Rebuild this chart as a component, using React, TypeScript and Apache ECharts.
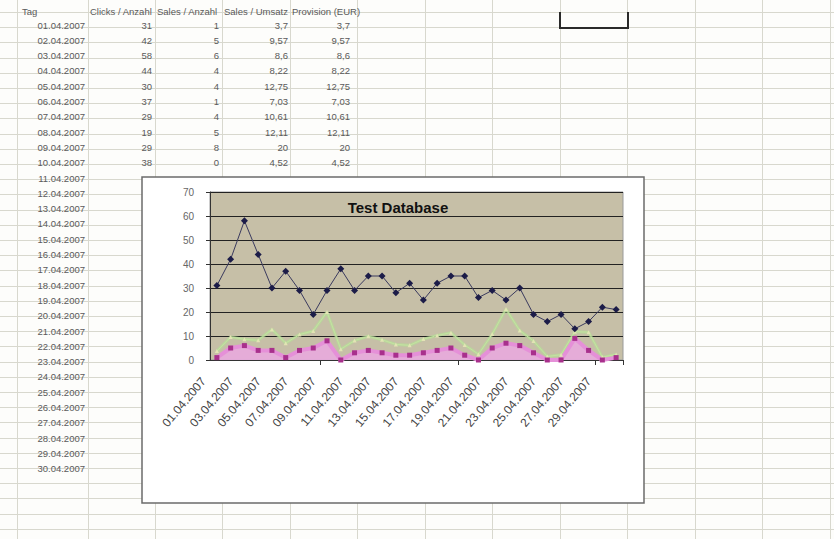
import React, { useEffect, useRef } from "react";
import * as echarts from "echarts";

const dates = [
  "01.04.2007", "02.04.2007", "03.04.2007", "04.04.2007", "05.04.2007",
  "06.04.2007", "07.04.2007", "08.04.2007", "09.04.2007", "10.04.2007",
  "11.04.2007", "12.04.2007", "13.04.2007", "14.04.2007", "15.04.2007",
  "16.04.2007", "17.04.2007", "18.04.2007", "19.04.2007", "20.04.2007",
  "21.04.2007", "22.04.2007", "23.04.2007", "24.04.2007", "25.04.2007",
  "26.04.2007", "27.04.2007", "28.04.2007", "29.04.2007", "30.04.2007",
];
const clicks = [31, 42, 58, 44, 30, 37, 29, 19, 29, 38, 29, 35, 35, 28, 32, 25, 32, 35, 35, 26, 29, 25, 30, 19, 16, 19, 13, 16, 22, 21];
const sales = [1, 5, 6, 4, 4, 1, 4, 5, 8, 0, 3, 4, 3, 2, 2, 3, 4, 5, 2, 0, 5, 7, 6, 3, 0, 0, 9, 4, 0, 1];
const umsatz = [3.7, 9.57, 8.6, 8.22, 12.75, 7.03, 10.61, 12.11, 20, 4.52, 8.1, 9.9, 8.4, 6.5, 6.1, 8.7, 10.2, 11.4, 6.3, 2.4, 10.8, 21.2, 12.3, 7.9, 1.5, 2.2, 11.8, 11.6, 1.2, 2.3];
const provision = [3.7, 9.57, 8.6, 8.22, 12.75, 7.03, 10.61, 12.11, 20, 4.52, 8.1, 9.9, 8.4, 6.5, 6.1, 8.7, 10.2, 11.4, 6.3, 2.4, 10.8, 21.2, 12.3, 7.9, 1.5, 2.2, 11.8, 11.6, 1.2, 2.3];
const headers = ["Tag", "Clicks / Anzahl", "Sales / Anzahl", "Sales / Umsatz", "Provision (EUR)"];
const visibleRows = 10;

const FONT = '"Liberation Sans", Arial, sans-serif';

function fmt(v: number) {
  return String(v).replace(".", ",");
}

export default function App() {
  const ref = useRef<HTMLDivElement>(null);
  useEffect(() => {
    if (!ref.current) return;
    const chart = echarts.init(ref.current, null, { renderer: "svg" });

    const colX = [17, 88, 155, 222, 290, 357, 425, 492, 560, 627, 695, 762, 830];
    const g: any[] = [];
    colX.forEach((x) =>
      g.push({ type: "line", z: -10, silent: true, shape: { x1: x + 0.5, y1: 0, x2: x + 0.5, y2: 539 }, style: { stroke: "#d8d8ce", lineWidth: 1 } })
    );
    for (let k = 0; k <= 34; k++) {
      const y = Math.round(12 + 15.2 * k) + 0.5;
      g.push({ type: "line", z: -10, silent: true, shape: { x1: 0, y1: y, x2: 834, y2: y }, style: { stroke: "#d8d8ce", lineWidth: 1 } });
    }
    const txt = (text: string, x: number, y: number, align: string) => ({
      type: "text",
      z: -9,
      silent: true,
      x,
      y,
      style: { text, font: `9.5px ${FONT}`, fill: "#5a5a5a", align, verticalAlign: "middle", textAlign: align, textVerticalAlign: "middle" },
    });
    const hy = 11;
    g.push(txt(headers[0], 22, hy, "left"));
    g.push(txt(headers[1], 90, hy, "left"));
    g.push(txt(headers[2], 157, hy, "left"));
    g.push(txt(headers[3], 224, hy, "left"));
    g.push(txt(headers[4], 292, hy, "left"));
    dates.forEach((d, i) => {
      const y = 25 + 15.3 * i;
      g.push(txt(d, 85, y, "right"));
      if (i < visibleRows) {
        g.push(txt(String(clicks[i]), 152, y, "right"));
        g.push(txt(String(sales[i]), 219, y, "right"));
        g.push(txt(fmt(umsatz[i]), 288, y, "right"));
        g.push(txt(fmt(provision[i]), 350, y, "right"));
      }
    });
    g.push({
      type: "polyline",
      z: -9,
      silent: true,
      shape: { points: [[560, 12], [560, 28], [628, 28], [628, 12]] },
      style: { stroke: "#2a2a2a", lineWidth: 2, fill: "none" },
    });
    g.push({
      type: "rect",
      z: -5,
      silent: true,
      shape: { x: 142, y: 177, width: 502, height: 326 },
      style: { fill: "#ffffff", stroke: "#6b6b6b", lineWidth: 1.5 },
    });

    chart.setOption({
      animation: false,
      textStyle: { fontFamily: FONT },
      graphic: { elements: g },
      title: {
        text: "Test Database",
        left: 393,
        top: 195,
        textAlign: "center",
        textStyle: { fontSize: 15, fontWeight: "bold", color: "#111", fontFamily: FONT },
      },
      grid: {
        left: 210,
        top: 192,
        width: 413,
        height: 168,
        show: true,
        backgroundColor: "#c6bfa7",
        borderColor: "#9a9a9a",
        borderWidth: 1,
      },
      xAxis: {
        type: "category",
        data: dates,
        boundaryGap: true,
        axisLine: { lineStyle: { color: "#333", width: 1 } },
        axisTick: { show: true, interval: (i: number) => i % 10 === 8, length: 5, lineStyle: { color: "#333" } },
        axisLabel: {
          interval: 1,
          rotate: 50,
          fontSize: 12,
          color: "#444",
          margin: 3,
          padding: [0, 21, 0, 0],
          fontFamily: FONT,
        },
        splitLine: { show: false },
      },
      yAxis: {
        type: "value",
        min: 0,
        max: 70,
        interval: 10,
        axisLine: { show: true, lineStyle: { color: "#333", width: 1 } },
        axisTick: { show: true, length: 4, lineStyle: { color: "#333" } },
        axisLabel: { fontSize: 10, color: "#666", margin: 16, fontFamily: FONT },
        splitLine: { show: true, lineStyle: { color: "#222", width: 1.2 } },
      },
      series: [
        {
          name: headers[3],
          type: "line",
          data: umsatz,
          symbol: "triangle",
          symbolSize: 4,
          lineStyle: { color: "#e2e4b4", width: 1 },
          itemStyle: { color: "#e2e4b4" },
        },
        {
          name: headers[4],
          type: "line",
          data: provision,
          symbol: "none",
          lineStyle: { color: "rgba(180,225,150,0.65)", width: 3 },
        },
        {
          name: headers[2],
          type: "line",
          data: sales,
          symbol: "rect",
          symbolSize: 5,
          lineStyle: { color: "#e590d8", width: 4 },
          areaStyle: { color: "#e8aade", opacity: 0.9 },
          itemStyle: { color: "#a8308c" },
        },
        {
          name: headers[1],
          type: "line",
          data: clicks,
          symbol: "diamond",
          symbolSize: 7,
          lineStyle: { color: "#3a3a5e", width: 1 },
          itemStyle: { color: "#1c1c48" },
        },
      ],
    });
    return () => chart.dispose();
  }, []);
  return <div ref={ref} style={{ position: "absolute", left: 0, top: 0, width: 834, height: 539, background: "#fdfdfb" }} />;
}
